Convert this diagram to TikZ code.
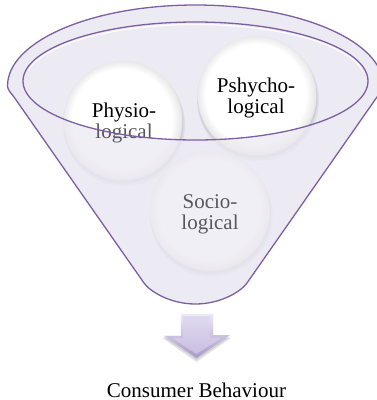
\documentclass[tikz,border=0pt]{standalone}
\usepackage{fontspec}
\setmainfont{Liberation Serif}
\definecolor{fun}{RGB}{236,234,242}
\definecolor{rim}{RGB}{124,96,162}
\definecolor{dimtext}{RGB}{88,88,92}
\definecolor{arrtop}{RGB}{238,235,248}
\definecolor{arrbot}{RGB}{168,152,200}
\definecolor{arrin}{RGB}{224,218,240}
\definecolor{arrinb}{RGB}{200,190,226}
\pgfdeclareradialshading{bevelball}{\pgfpoint{-2bp}{3bp}}{color(0bp)=(white); color(21bp)=(white); color(24.5bp)=(black!8); color(27bp)=(black!22); color(29bp)=(black!30)}
\tikzset{
  lbl/.style={align=center, font=\fontsize{21}{21}\selectfont, inner sep=0pt},
  ball/.style={shading=bevelball},
  funline/.style={draw=rim, line width=1.3pt},
}
\begin{document}
\begin{tikzpicture}[x=1pt,y=-1pt]
\useasboundingbox (0,0) rectangle (377,400);
% funnel back
\fill[fun] (7.5,86) arc[start angle=180,end angle=360,x radius=188,y radius=81]
  .. controls (383.5,90) and (379.3,93.7) .. (377,97) -- (247,283)
  .. controls (241.3,291.2) and (221,304) .. (195.5,304)
  .. controls (170,304) and (149.7,291.2) .. (144,283) -- (14,97)
  .. controls (11.7,93.7) and (7.5,90) .. (7.5,86) -- cycle;
% circle shadows
\foreach \cx/\cy/\r in {123/121/59.5, 257/96/59.5, 210/211/60}{
  \fill[black,opacity=0.05] (\cx+1,\cy+4) circle (\r+1.5);
  \fill[black,opacity=0.07] (\cx+0.5,\cy+2.5) circle (\r+0.5);
}
% circles
\shade[ball] (123,121) circle (59.5);
\shade[ball] (257,96) circle (59.5);
\shade[ball] (210,211) circle (60);
% funnel front (translucent)
\fill[fun, opacity=0.75, even odd rule] (7.5,86) arc[start angle=180,end angle=360,x radius=188,y radius=81]
  .. controls (383.5,90) and (379.3,93.7) .. (377,97) -- (247,283)
  .. controls (241.3,291.2) and (221,304) .. (195.5,304)
  .. controls (170,304) and (149.7,291.2) .. (144,283) -- (14,97)
  .. controls (11.7,93.7) and (7.5,90) .. (7.5,86) -- cycle
  (195.5,81) ellipse [x radius=172.5, y radius=59];
% labels
\node[lbl] (phys) at (124,123.4) {Physio-\\\textcolor{dimtext}{logical}};
\node[lbl] (psy) at (256,98) {Pshycho-\\logical};
\node[lbl, text=dimtext] (soc) at (210,214) {Socio-\\logical};
% highlight inside rim
\draw[white, line width=1.2pt, opacity=0.9] (195.5,81) ++(190:170 and 56.5) arc[start angle=190,end angle=350,x radius=170,y radius=56.5];
% rim and outline
\draw[funline] (195.5,81) ellipse [x radius=172.5, y radius=59];
\draw[funline] (7.5,86) arc[start angle=180,end angle=360,x radius=188,y radius=81]
  .. controls (383.5,90) and (379.3,93.7) .. (377,97) -- (247,283)
  .. controls (241.3,291.2) and (221,304) .. (195.5,304)
  .. controls (170,304) and (149.7,291.2) .. (144,283) -- (14,97)
  .. controls (11.7,93.7) and (7.5,90) .. (7.5,86) -- cycle;
% arrow
\fill[black, opacity=0.10] (180,316) -- (213,316) -- (213,338) -- (231,338) -- (196.5,362) -- (162,338) -- (180,338) -- cycle;
\fill[black, opacity=0.10] (180,314.5) -- (213,314.5) -- (213,336.5) -- (230.5,336.5) -- (196.5,360) -- (162.5,336.5) -- (180,336.5) -- cycle;
\shade[top color=arrtop, bottom color=arrbot] (180,313) -- (213,313) -- (213,335) -- (230,335) -- (196.5,358) -- (163,335) -- (180,335) -- cycle;
\shade[top color=arrin, bottom color=arrinb] (183,316) -- (210,316) -- (210,338) -- (221,338) -- (196.5,354) -- (172,338) -- (183,338) -- cycle;
\draw[white, line width=0.8pt, opacity=0.8] (163,335) -- (180,335) -- (180,313) -- (213,313);
% caption
\node[font=\fontsize{21}{21}\selectfont, anchor=base, inner sep=0pt] (cb) at (196.5,397) {Consumer Behaviour};
\end{tikzpicture}
\end{document}
